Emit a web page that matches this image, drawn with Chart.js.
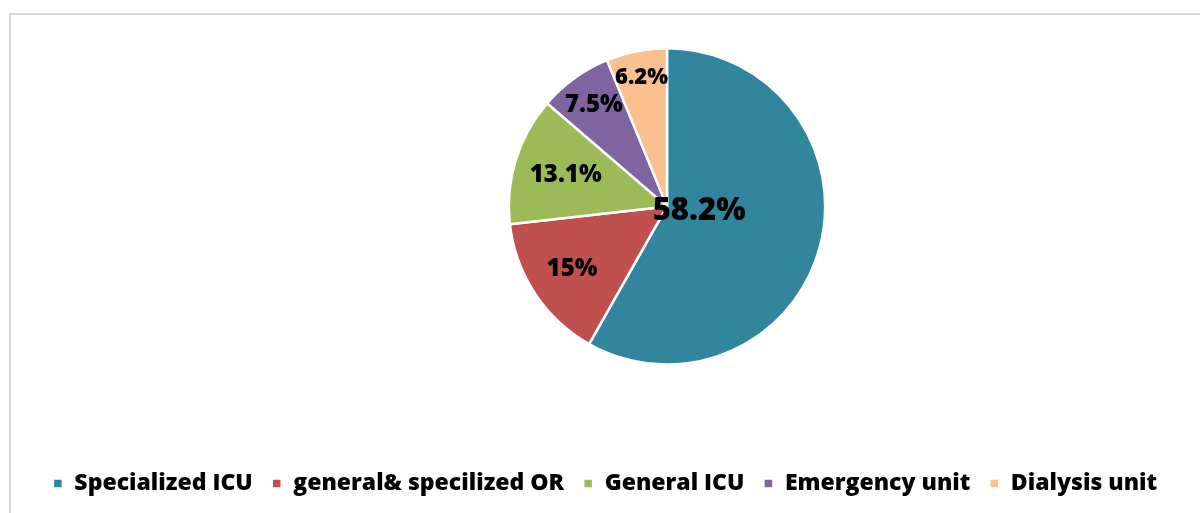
<!DOCTYPE html>
<html>
<head>
<meta charset="utf-8">
<script src="https://cdn.jsdelivr.net/npm/chart.js@4/dist/chart.umd.min.js"></script>
<style>
  body { margin: 0; background: #fff; overflow: hidden; }
  #moldura { position: absolute; left: 9px; top: 13px; width: 1300px; height: 600px;
             border-left: 2px solid #d9d9d9; border-top: 2px solid #d9d9d9; }
  #wrap { position: absolute; left: 0; top: 0; width: 1200px; height: 513px; }
</style>
</head>
<body>
<div id="moldura"></div>
<div id="wrap"><canvas id="graficoUnidades"></canvas></div>
<script>
// Dados do gráfico
const unidades = ['Specialized ICU', 'general& specilized OR', 'General ICU', 'Emergency unit', 'Dialysis unit'];
const percentuais = [58.2, 15, 13.1, 7.5, 6.2];
const rotulos = ['58.2%', '15%', '13.1%', '7.5%', '6.2%'];

const cores = ['#31859C', '#C0504D', '#9BBB59', '#8064A2', '#FAC090'];
// distância do rótulo até o centro (fração do raio) e tamanho da fonte
const posRotulo = [0.21, 0.72, 0.67, 0.79, 0.83];
const tamRotulo = [31, 24, 24, 24, 22];

// Plugin simples para escrever os rótulos dentro das fatias
const rotulosFatias = {
    id: 'rotulosFatias',
    afterDatasetsDraw(chart) {
        const ctx = chart.ctx;
        const meta = chart.getDatasetMeta(0);
        ctx.save();
        ctx.fillStyle = '#000';
        ctx.textAlign = 'center';
        ctx.textBaseline = 'middle';
        meta.data.forEach(function (arc, i) {
            const p = arc.getProps(['x', 'y', 'startAngle', 'endAngle', 'outerRadius']);
            const meio = (p.startAngle + p.endAngle) / 2;
            const r = p.outerRadius * posRotulo[i];
            ctx.font = '800 ' + tamRotulo[i] + 'px "Open Sans"';
            ctx.fillText(rotulos[i], p.x + Math.cos(meio) * r, p.y + Math.sin(meio) * r - (i === 0 ? 4 : 0));
        });
        ctx.restore();
    }
};

// A pizza fica deslocada para a direita em relação à legenda
const deslocaPizza = {
    id: 'deslocaPizza',
    afterLayout(chart) {
        chart.chartArea.left += 62;
        chart.chartArea.right += 62;
    }
};

const config = {
    type: 'pie',
    data: {
        labels: unidades,
        datasets: [{
            data: percentuais,
            backgroundColor: cores,
            borderColor: '#ffffff',
            borderWidth: 2.5
        }]
    },
    options: {
        responsive: false,
        animation: false,
        layout: { padding: { top: 47, bottom: 8, left: 10 } },
        plugins: {
            tooltip: { enabled: false },
            legend: {
                position: 'bottom',
                title: { display: true, text: '', font: { size: 1 }, padding: { top: 86, bottom: 0 } },
                labels: {
                    boxWidth: 10,
                    boxHeight: 10,
                    padding: 19,
                    color: '#000',
                    font: { family: 'Open Sans', size: 23, weight: '800' }
                }
            }
        }
    },
    plugins: [rotulosFatias, deslocaPizza]
};

const canvas = document.getElementById('graficoUnidades');
canvas.width = 1200;
canvas.height = 513;
let pizza = new Chart(canvas, config);
</script>
</body>
</html>
